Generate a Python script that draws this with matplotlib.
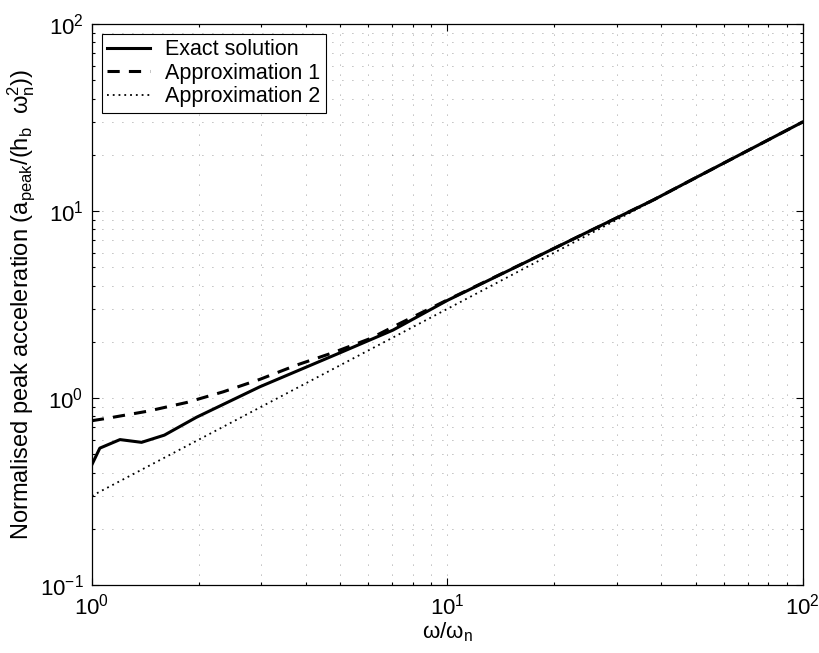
import matplotlib
matplotlib.use("Agg")
import matplotlib.pyplot as plt
from matplotlib.ticker import LogLocator, NullFormatter

plt.rcParams['font.family'] = ['Liberation Sans', 'DejaVu Sans']
plt.rcParams['mathtext.fontset'] = 'custom'
plt.rcParams['mathtext.rm'] = 'Liberation Sans'
plt.rcParams['mathtext.it'] = 'Liberation Sans'
plt.rcParams['mathtext.bf'] = 'Liberation Sans:bold'

# Data
exact_x = [1.0, 1.053, 1.2, 1.38, 1.6, 1.97, 2.97, 5.0, 7.03, 10.0, 20.0, 37.9, 50.0, 100.0]
exact_y = [0.44, 0.54, 0.60, 0.58, 0.634, 0.79, 1.15, 1.75, 2.31, 3.33, 6.33, 11.45, 15.1, 30.0]

approx1_x = [1.0, 1.10, 1.44, 1.85, 2.34, 2.97, 3.76, 4.77, 6.06, 7.36, 10.0, 20.0, 37.9, 50.0, 100.0]
approx1_y = [0.757, 0.779, 0.852, 0.948, 1.08, 1.26, 1.50, 1.75, 2.08, 2.51, 3.35, 6.33, 11.45, 15.1, 30.0]

approx2_x = [1.0, 100.0]
approx2_y = [0.3, 30.0]

labels = ['Exact solution', 'Approximation 1', 'Approximation 2']

fig = plt.figure(figsize=(8.2, 6.53), dpi=100)
ax = fig.add_axes([0.112, 0.104, 0.867, 0.859])

ax.plot(exact_x, exact_y, color='black', lw=2.2, ls='-', label=labels[0])
ax.plot(approx1_x, approx1_y, color='black', lw=2.2, ls=(0, (4, 3)), label=labels[1])
ax.plot(approx2_x, approx2_y, color='black', lw=1.3, ls=(0, (1, 2.2)), label=labels[2])

ax.set_xscale('log')
ax.set_yscale('log')
ax.set_xlim(1, 100)
ax.set_ylim(0.1, 100)

ax.xaxis.set_major_locator(LogLocator(base=10))
ax.yaxis.set_major_locator(LogLocator(base=10))
ax.xaxis.set_minor_locator(LogLocator(base=10, subs=range(2, 10)))
ax.yaxis.set_minor_locator(LogLocator(base=10, subs=range(2, 10)))
ax.xaxis.set_minor_formatter(NullFormatter())
ax.yaxis.set_minor_formatter(NullFormatter())

ax.grid(True, which='both', color='#444444', lw=0.6, ls=(0, (1, 11)), alpha=0.7)

ax.tick_params(which='both', direction='in', top=True, right=True, labelsize=16, width=0.8)
ax.tick_params(which='major', length=5, pad=6)
ax.tick_params(which='minor', length=2.5)
for s in ax.spines.values():
    s.set_linewidth(0.9)

ax.set_xlabel(r'ω/ω$_{\mathrm{n}}$', fontsize=16, labelpad=1)
ax.set_ylabel(r'Normalised peak acceleration (a$_{\mathrm{peak}}$/(h$_{\mathrm{b}}$  ω$_{\mathrm{n}}^{2}$))',
              fontsize=17, labelpad=2)

leg = ax.legend(loc='upper left', fontsize=15.5, frameon=True, fancybox=False,
                edgecolor='black', framealpha=1, borderaxespad=0.45,
                handlelength=2.0, handletextpad=0.7, labelspacing=0.12, borderpad=0.25)
leg.get_frame().set_linewidth(0.8)

fig.savefig('out.png', dpi=100)
